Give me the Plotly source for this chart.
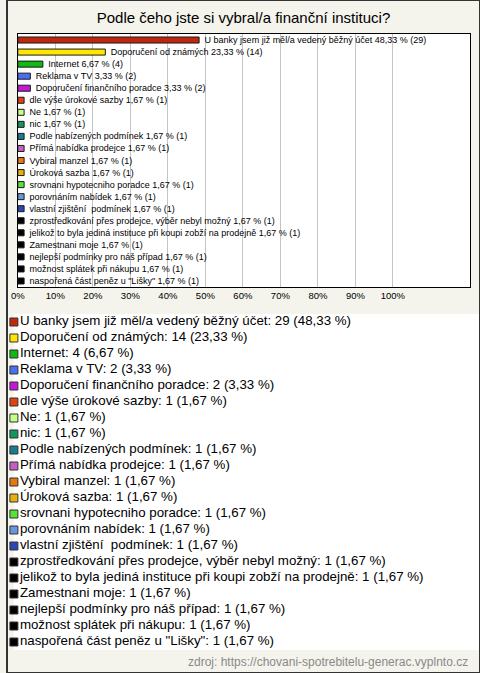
import plotly.graph_objects as go

W, H = 480, 673

categories = [
    "U banky jsem již měl/a vedený běžný účet",
    "Doporučení od známých",
    "Internet",
    "Reklama v TV",
    "Doporučení finančního poradce",
    "dle výše úrokové sazby",
    "Ne",
    "nic",
    "Podle nabízených podmínek",
    "Přímá nabídka prodejce",
    "Vybiral manzel",
    "Úroková sazba",
    "srovnani hypotecniho poradce",
    "porovnáním nabídek",
    "vlastní zjištění\u00a0 podmínek",
    "zprostředkování přes prodejce, výběr nebyl možný",
    "jelikož to byla jediná instituce při koupi zobží na prodejně",
    "Zamestnani moje",
    "nejlepší podmínky pro náš případ",
    "možnost splátek při nákupu",
    "naspořená část peněz u \"Lišky\"",
]
counts = [29, 14, 4, 2, 2, 1, 1, 1, 1, 1, 1, 1, 1, 1, 1, 1, 1, 1, 1, 1, 1]
percents = [48.33, 23.33, 6.67, 3.33, 3.33, 1.67, 1.67, 1.67, 1.67, 1.67, 1.67,
            1.67, 1.67, 1.67, 1.67, 1.67, 1.67, 1.67, 1.67, 1.67, 1.67]
colors = ["#c1260f", "#ffe600", "#12b812", "#4a70f2", "#c418d6", "#e2420f",
          "#c6ff88", "#12985f", "#1c7a90", "#c460c2", "#e5780f", "#e6b00c",
          "#58e436", "#6a96e0", "#2a48b2", "#000000", "#000000", "#000000",
          "#000000", "#000000", "#000000"]
x_ticks = list(range(0, 101, 10))
x_tick_labels = [f"{t}%" for t in x_ticks]
source = "zdroj: https://chovani-spotrebitelu-generac.vyplnto.cz"
title = "Podle čeho jste si vybral/a finanční instituci?"


def fmt(p):
    return f"{p:.2f}".replace(".", ",")


bar_text = [f"\u00a0{c} {fmt(p)} % ({n})" for c, p, n in zip(categories, percents, counts)]
legend_text = [f"{c}: {n} ({fmt(p)} %)" for c, p, n in zip(categories, percents, counts)]

FONT = "Liberation Sans, Arial, sans-serif"

fig = go.Figure()
fig.add_trace(go.Bar(
    x=percents, y=categories, orientation="h",
    marker=dict(color=colors, line=dict(color="#1a1a1a", width=1)),
    width=0.5,
    text=bar_text, textposition="outside", cliponaxis=False,
    constraintext="none",
    textfont=dict(family=FONT, size=9, color="#000"),
    hoverinfo="skip", xaxis="x", yaxis="y",
))

fig.add_trace(go.Scatter(
    x=[0] * len(categories), y=categories, mode="markers+text",
    marker=dict(symbol="square", size=8, color=colors,
                line=dict(color="#333", width=1)),
    text=legend_text, textposition="middle right",
    textfont=dict(family=FONT, size=13.3, color="#000"),
    hoverinfo="skip", xaxis="x2", yaxis="y2", cliponaxis=False,
))

plot_top, plot_bottom = 34, 287
plot_left, plot_right = 11, 470
leg_top, leg_bottom = 314, 650
n = len(categories)

fig.update_layout(
    width=W, height=H,
    margin=dict(l=0, r=0, t=0, b=0),
    paper_bgcolor="#f4f3ec", plot_bgcolor="#ffffff",
    showlegend=False,
    font=dict(family=FONT, color="#000"),
    title=dict(text=title, x=0.5, xanchor="center", xref="paper",
               y=1 - 18 / H, yanchor="middle", yref="container",
               font=dict(family=FONT, size=15, color="#000")),
    xaxis=dict(domain=[plot_left / W, plot_right / W], range=[0, 120.6],
               tickvals=x_ticks, ticktext=x_tick_labels,
               tickfont=dict(family=FONT, size=9.5, color="#000"),
               showgrid=True, gridcolor="#c4c4c4", gridwidth=1,
               zeroline=False, showline=True, linecolor="#000", linewidth=1,
               mirror=True, ticks="", fixedrange=True, anchor="y"),
    yaxis=dict(domain=[1 - plot_bottom / H, 1 - plot_top / H],
               categoryorder="array", categoryarray=categories,
               range=[n - 0.5, -0.5], showticklabels=False, showgrid=False,
               zeroline=False, showline=True, linecolor="#000", linewidth=1,
               mirror=True, ticks="", anchor="x"),
    xaxis2=dict(domain=[7 / W, 1], range=[0, 1], visible=False, anchor="y2"),
    yaxis2=dict(domain=[1 - leg_bottom / H, 1 - leg_top / H],
                categoryorder="array", categoryarray=categories,
                range=[n - 0.5, -0.5], visible=False, anchor="x2"),
    bargap=0.5,
    shapes=[dict(type="rect", xref="paper", yref="paper", x0=0, x1=1, y0=0, y1=1,
                 line=dict(color="#333", width=2), fillcolor="rgba(0,0,0,0)")],
    annotations=[dict(text=source, xref="paper", yref="paper",
                      x=470 / W, y=1 - 662 / H, xanchor="right", yanchor="middle",
                      showarrow=False,
                      font=dict(family=FONT, size=12, color="#8a8a8a"))],
)

fig.write_html("out.html",
               config={"displayModeBar": False, "staticPlot": True},
               post_script="document.body.style.margin='0';"
                           "document.body.style.overflow='hidden';")
